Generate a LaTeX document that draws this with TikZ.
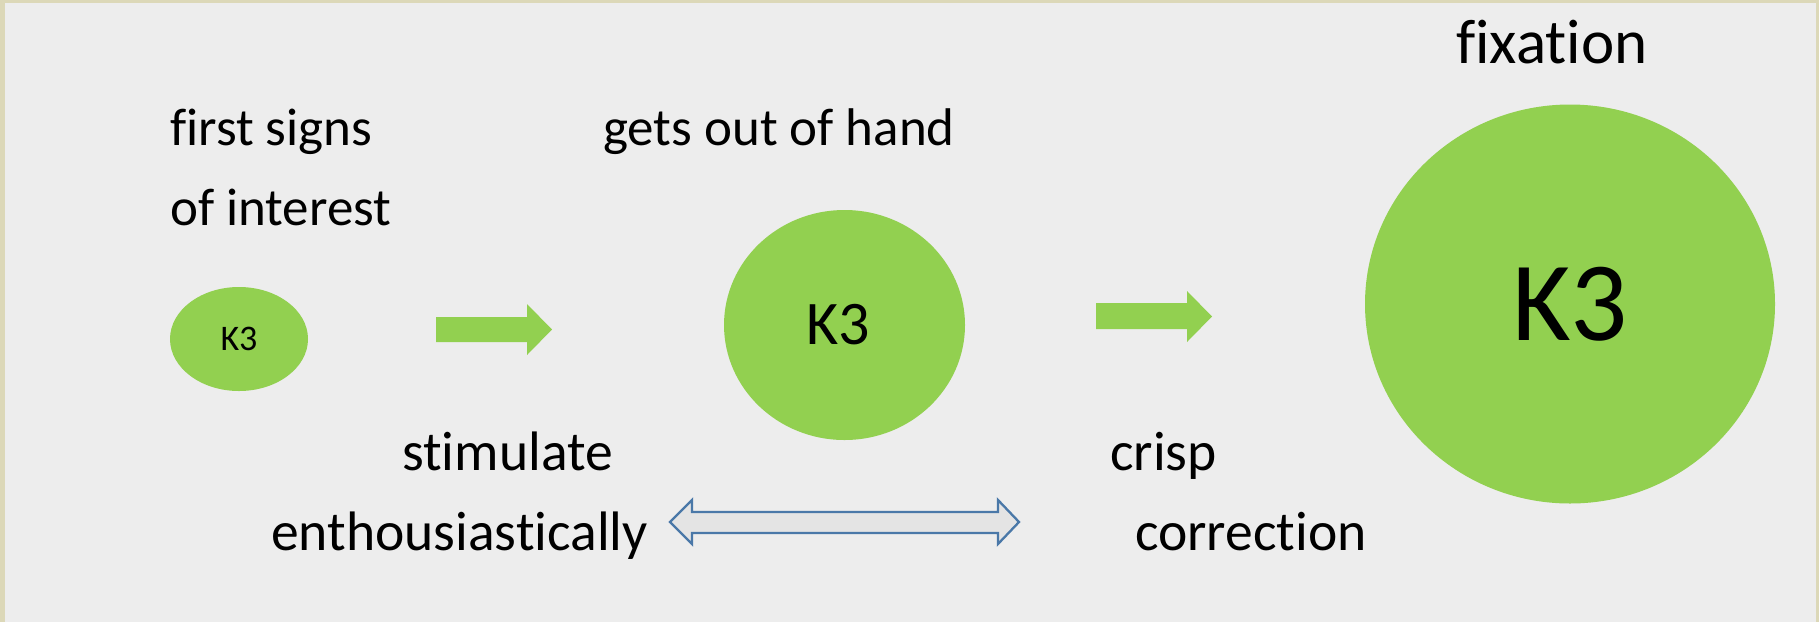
\documentclass[tikz,border=0pt]{standalone}
\usepackage{fontspec}
\setmainfont{Carlito}[Ligatures=NoCommon]
\usetikzlibrary{shapes.geometric}

\definecolor{pagebg}{HTML}{EDEDED}
\definecolor{frametan}{HTML}{DCD8B8}
\definecolor{leaf}{HTML}{92D050}
\definecolor{steel}{HTML}{4A78A8}
\definecolor{pale}{HTML}{E4E4E4}

\tikzset{
  blob/.style={ellipse, fill=leaf, inner sep=0pt, text=black},
  caption/.style={anchor=base west, inner sep=0pt, text=black,
    font=\fontsize{53}{60}\selectfont},
  lowcaption/.style={caption, font=\fontsize{55.6}{62}\selectfont},
  blockarrow/.style={fill=leaf},
  twoway/.style={draw=steel, fill=pale, line width=2.3pt, line join=miter}
}

\begin{document}
\begin{tikzpicture}[x=1pt, y=-1pt]
  % frame and page
  \fill[frametan] (0,0) rectangle (1819,622);
  \fill[pagebg] (5,3) rectangle (1816,622);
  \useasboundingbox (0,0) rectangle (1819,622);

  % the three stages
  \node[blob, minimum width=138pt, minimum height=104pt,
        font=\fontsize{36}{40}\selectfont] (small) at (239,339) {K3};
  \node[blob, minimum width=241pt, minimum height=230pt,
        font=\fontsize{62}{70}\selectfont] (medium) at (844.5,325) {\hspace*{-12pt}K3};
  \node[blob, minimum width=410pt, minimum height=399pt,
        font=\fontsize{113}{120}\selectfont] (large) at (1570,304) {K3};

  % growth arrows between stages
  \fill[blockarrow] (436,317) -- (527,317) -- (527,304) -- (552,329.5)
        -- (527,355) -- (527,342) -- (436,342) -- cycle;
  \fill[blockarrow] (1096,303) -- (1187,303) -- (1187,291) -- (1212,316.5)
        -- (1187,342) -- (1187,329) -- (1096,329) -- cycle;

  % two-way arrow between the reactions
  \draw[twoway] (670,522) -- (692,500) -- (692,512) -- (998,512) -- (998,500)
        -- (1019,522) -- (998,544) -- (998,533) -- (692,533) -- (692,544) -- cycle;

  % labels
  \node[caption] (t1a) at (170,145) {first signs};
  \node[caption] (t1b) at (170,225) {of interest};
  \node[caption] (t2) at (603,145) {gets out of hand};
  \node[caption, font=\fontsize{63}{70}\selectfont] (t3) at (1456,63) {fixation};
  \node[lowcaption] (s1) at (402,470) {stimulate};
  \node[lowcaption] (s2) at (271,550) {enthousiastically};
  \node[lowcaption] (c1) at (1110,470) {crisp};
  \node[lowcaption] (c2) at (1135,550) {correction};
\end{tikzpicture}
\end{document}
